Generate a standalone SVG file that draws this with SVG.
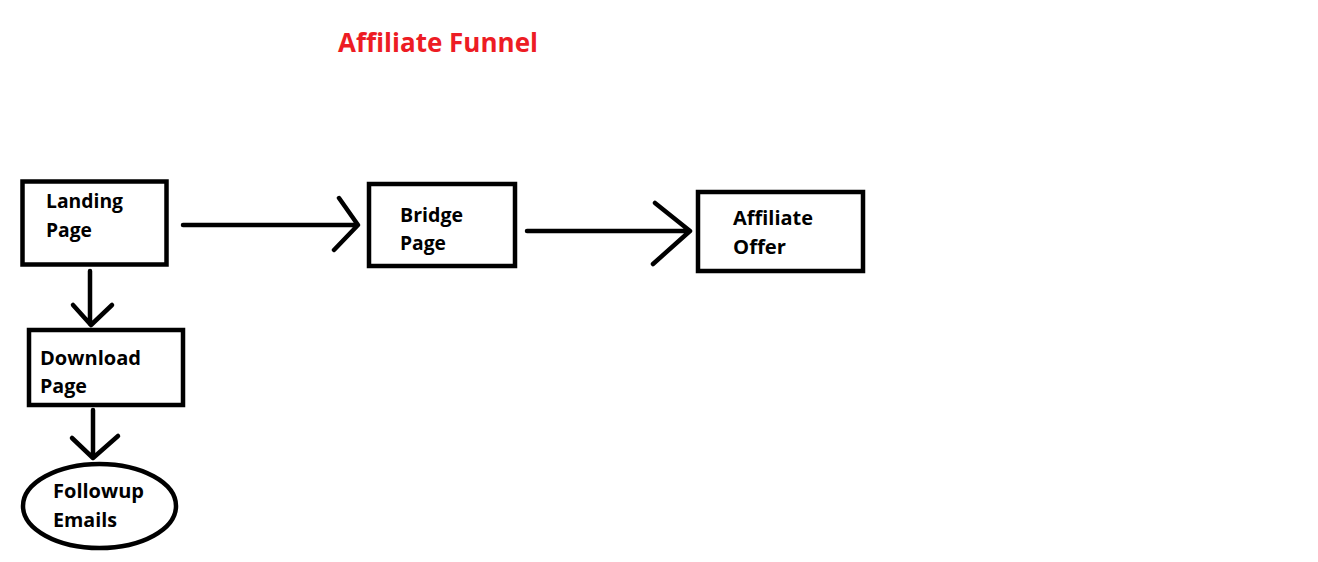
<svg xmlns="http://www.w3.org/2000/svg" width="1318" height="562" viewBox="0 0 1318 562">
<style>
.box{fill:none;stroke:#000;stroke-width:4.5}
.ln{fill:none;stroke:#000;stroke-width:4.5;stroke-linecap:round;stroke-linejoin:round}
.t{font-family:"Open Sans","Liberation Sans",sans-serif;font-weight:bold;font-size:19px;fill:#000}
.title{font-family:"Open Sans","Liberation Sans",sans-serif;font-weight:bold;font-size:27px;fill:#ED1C24}
</style>
<rect width="1318" height="562" fill="#fff"/>
<text class="title" x="338" y="52" textLength="200" lengthAdjust="spacingAndGlyphs">Affiliate Funnel</text>
<g id="landing">
<rect class="box" x="22.5" y="181.5" width="144" height="83"/>
<text class="t" x="46" y="208" textLength="77" lengthAdjust="spacingAndGlyphs">Landing</text>
<text class="t" x="46" y="237" textLength="46" lengthAdjust="spacingAndGlyphs">Page</text>
</g>
<g id="bridge">
<rect class="box" x="369" y="184" width="146" height="82"/>
<text class="t" x="400" y="222" textLength="63" lengthAdjust="spacingAndGlyphs">Bridge</text>
<text class="t" x="400" y="250" textLength="46" lengthAdjust="spacingAndGlyphs">Page</text>
</g>
<g id="offer">
<rect class="box" x="698" y="192" width="165" height="79"/>
<text class="t" x="733" y="225" textLength="80" lengthAdjust="spacingAndGlyphs">Affiliate</text>
<text class="t" x="733" y="254" textLength="53" lengthAdjust="spacingAndGlyphs">Offer</text>
</g>
<g id="download">
<rect class="box" x="29" y="330" width="154" height="75"/>
<text class="t" x="40" y="365" textLength="101" lengthAdjust="spacingAndGlyphs">Download</text>
<text class="t" x="40" y="393" textLength="47" lengthAdjust="spacingAndGlyphs">Page</text>
</g>
<g id="followup">
<ellipse class="box" cx="99.5" cy="506" rx="76.5" ry="42"/>
<text class="t" x="53" y="498" textLength="91" lengthAdjust="spacingAndGlyphs">Followup</text>
<text class="t" x="53" y="527" textLength="64" lengthAdjust="spacingAndGlyphs">Emails</text>
</g>
<g id="connectors">
<path class="ln" d="M183 225H357M339 198L358 225L334 250"/>
<path class="ln" d="M527 231H689M655 203L690 231L653 264"/>
<path class="ln" d="M90 271V324M73 305L91 325L112 305"/>
<path class="ln" d="M93 410V457M72 438L93 458L118 436"/>
</g>
</svg>
